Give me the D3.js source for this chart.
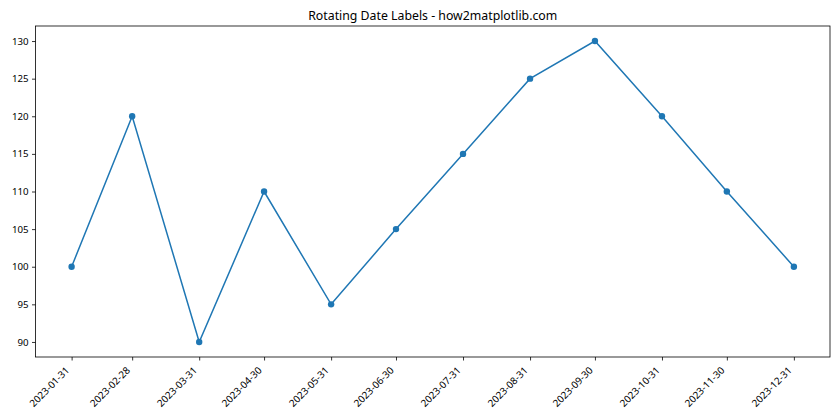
<!DOCTYPE html>
<html>
<head>
<meta charset="utf-8">
<script src="https://cdn.jsdelivr.net/npm/d3@7"></script>
<style>
  body { margin: 0; background: #fff; }
  text { font-family: "Noto Sans", "DejaVu Sans", sans-serif; }
</style>
</head>
<body>
<svg id="chart" width="840" height="420"></svg>
<script>
// Month-end dates and values
var dates = ["2023-01-31", "2023-02-28", "2023-03-31", "2023-04-30", "2023-05-31", "2023-06-30",
             "2023-07-31", "2023-08-31", "2023-09-30", "2023-10-31", "2023-11-30", "2023-12-31"];
var values = [100, 120, 90, 110, 95, 105, 115, 125, 130, 120, 110, 100];
var yTicks = [90, 95, 100, 105, 110, 115, 120, 125, 130];

var svg = d3.select("#chart");
var margin = { left: 35.5, top: 26, right: 10, bottom: 63 };
var width = 840 - margin.left - margin.right,
    height = 420 - margin.top - margin.bottom;

var parse = d3.utcParse("%Y-%m-%d");
var data = dates.map(function (d, i) {
    return { date: parse(d), label: d, value: values[i] };
});

// 5% padding each side, like matplotlib margins
var t0 = +data[0].date, t1 = +data[data.length - 1].date, pad = (t1 - t0) * 0.05;
var x = d3.scaleUtc()
    .domain([new Date(t0 - pad), new Date(t1 + pad)])
    .range([0, width]);

var y = d3.scaleLinear()
    .domain([88, 132])
    .range([height, 0]);

var g = svg.append("g")
    .attr("transform", "translate(" + margin.left + "," + margin.top + ")");

// Y axis
var yAxis = g.append("g")
    .call(d3.axisLeft(y).tickValues(yTicks).tickSize(3.5).tickPadding(3.5));
yAxis.select(".domain").remove();
yAxis.selectAll("text").style("font-size", "9.7px").attr("fill", "#000");
yAxis.selectAll("line").attr("stroke", "#000").attr("stroke-width", 0.8);

// X axis
var xAxis = g.append("g")
    .attr("transform", "translate(0," + height + ")")
    .call(d3.axisBottom(x).tickValues(data.map(function (d) { return d.date; }))
        .tickSize(3.5).tickFormat(d3.utcFormat("%Y-%m-%d")));
xAxis.select(".domain").remove();
xAxis.selectAll("line").attr("stroke", "#000").attr("stroke-width", 0.8);
xAxis.selectAll("text")
    .style("font-size", "9.9px")
    .attr("fill", "#000")
    .attr("text-anchor", "end")
    .attr("dy", null)
    .attr("y", 0)
    .attr("transform", "translate(-2,14) rotate(-45)");

// Frame
g.append("rect")
    .attr("width", width)
    .attr("height", height)
    .attr("fill", "none")
    .attr("stroke", "#000")
    .attr("stroke-width", 0.8);

// Line
var line = d3.line()
    .x(function (d) { return x(d.date); })
    .y(function (d) { return y(d.value); });

g.append("path")
    .datum(data)
    .attr("fill", "none")
    .attr("stroke", "#1f77b4")
    .attr("stroke-width", 1.5)
    .attr("d", line);

g.selectAll(".dot")
    .data(data)
    .enter().append("circle")
    .attr("class", "dot")
    .attr("cx", function (d) { return x(d.date); })
    .attr("cy", function (d) { return y(d.value); })
    .attr("r", 3.2)
    .attr("fill", "#1f77b4");

// Title
svg.append("text")
    .attr("x", margin.left + width / 2)
    .attr("y", 20)
    .attr("text-anchor", "middle")
    .style("font-size", "12.3px")
    .text("Rotating Date Labels - how2matplotlib.com");
</script>
</body>
</html>
